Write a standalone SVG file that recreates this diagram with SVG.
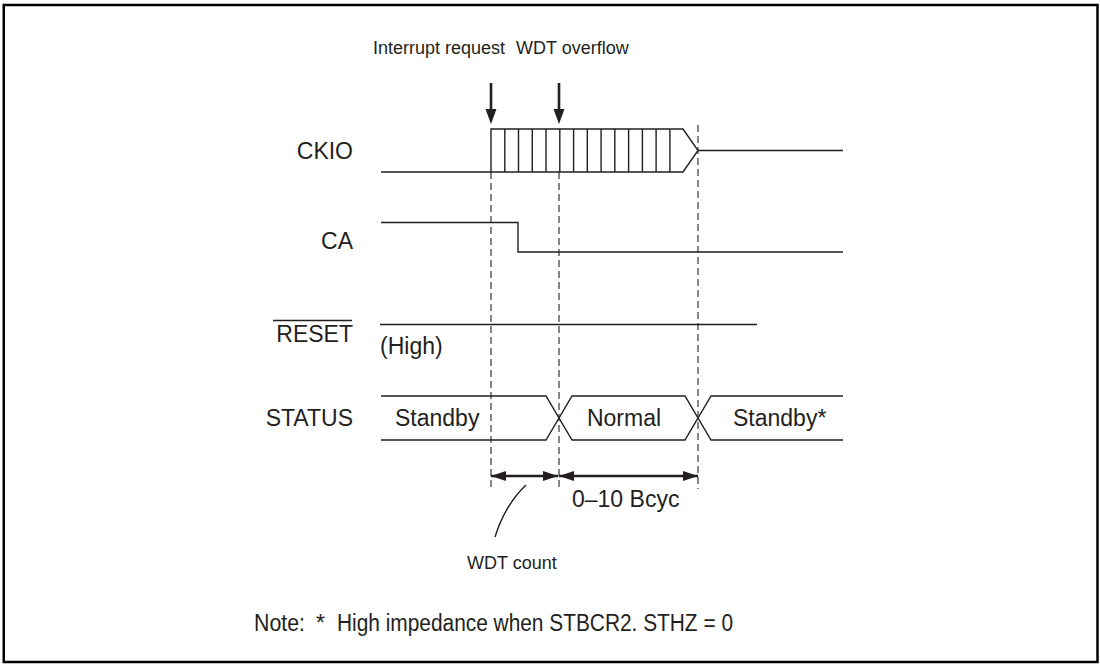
<svg xmlns="http://www.w3.org/2000/svg" width="1100" height="664" viewBox="0 0 1100 664">
<style>
text{font-family:"Liberation Sans",Arial,sans-serif;fill:#231f20}
.lbl{font-size:23px}
.sm{font-size:18px}
.sig{fill:none;stroke:#231f20;stroke-width:1.4}
.dash{fill:none;stroke:#555;stroke-width:1.4;stroke-dasharray:7 4}
.arr{fill:none;stroke:#231f20;stroke-width:2.6}
</style>
<defs>
<marker id="ah" markerUnits="userSpaceOnUse" markerWidth="16" markerHeight="10" refX="15" refY="5" orient="auto-start-reverse">
<path d="M0,0 L15,5 L0,10 Z" fill="#231f20"/>
</marker>
</defs>
<rect x="3.75" y="5" width="1093.75" height="657" fill="#fff" stroke="#000" stroke-width="2.5"/>

<g id="labels">
<text class="lbl" x="353" y="159" text-anchor="end">CKIO</text>
<text class="lbl" x="353" y="249" text-anchor="end">CA</text>
<text class="lbl" x="353" y="342" text-anchor="end">RESET</text>
<line x1="273" y1="320.5" x2="352" y2="320.5" stroke="#231f20" stroke-width="1.4"/>
<text class="lbl" x="353" y="426" text-anchor="end">STATUS</text>
</g>

<g id="events">
<text class="sm" x="505" y="54" text-anchor="end">Interrupt request</text>
<text class="sm" x="516" y="54">WDT overflow</text>
<line class="arr" x1="491" y1="83" x2="491" y2="110"/>
<path d="M485.5,109 L496.5,109 L491,124 Z" fill="#231f20"/>
<line class="arr" x1="559" y1="83" x2="559" y2="110"/>
<path d="M553.5,109 L564.5,109 L559,124 Z" fill="#231f20"/>
</g>

<g id="guides">
<line class="dash" x1="491" y1="172" x2="491" y2="491"/>
<line class="dash" x1="559" y1="172" x2="559" y2="491"/>
<line class="dash" x1="698" y1="125" x2="698" y2="489"/>
</g>

<g id="ckio">
<path class="sig" d="M381,172 H491 V129 H683 L698,150.5 L683,172 H491 M698,150.5 H843"/>
<path class="sig" d="M504.8,129V172M518.5,129V172M532.3,129V172M546,129V172M559.8,129V172M573.6,129V172M587.3,129V172M601.1,129V172M614.8,129V172M628.6,129V172M642.4,129V172M656.1,129V172M669.9,129V172"/>
</g>

<g id="ca">
<path class="sig" d="M381,222.5 H518 V252 H843"/>
</g>

<g id="reset">
<line class="sig" x1="380" y1="324.5" x2="757" y2="324.5"/>
<text class="lbl" x="380" y="354">(High)</text>
</g>

<g id="status">
<path class="sig" d="M381,396 H546 L572,440 H685 L711,396 H843 M381,440 H546 L572,396 H685 L711,440 H843"/>
<text class="lbl" x="395" y="426">Standby</text>
<text class="lbl" x="624" y="426" text-anchor="middle">Normal</text>
<text class="lbl" x="733" y="426">Standby*</text>
</g>

<g id="connectors">
<line class="arr" x1="491" y1="476" x2="558" y2="476" marker-start="url(#ah)" marker-end="url(#ah)"/>
<line class="arr" x1="559" y1="476" x2="698" y2="476" marker-start="url(#ah)" marker-end="url(#ah)"/>
<path class="sig" d="M526,485 Q505,505 495,537"/>
</g>

<g id="annotations">
<text class="lbl" x="572" y="507">0–10 Bcyc</text>
<text class="sm" x="467" y="569">WDT count</text>
<text font-size="23" y="631"><tspan x="254" textLength="51" lengthAdjust="spacingAndGlyphs">Note:</tspan><tspan x="316">*</tspan><tspan x="337" textLength="396" lengthAdjust="spacingAndGlyphs">High impedance when STBCR2. STHZ = 0</tspan></text>
</g>
</svg>
